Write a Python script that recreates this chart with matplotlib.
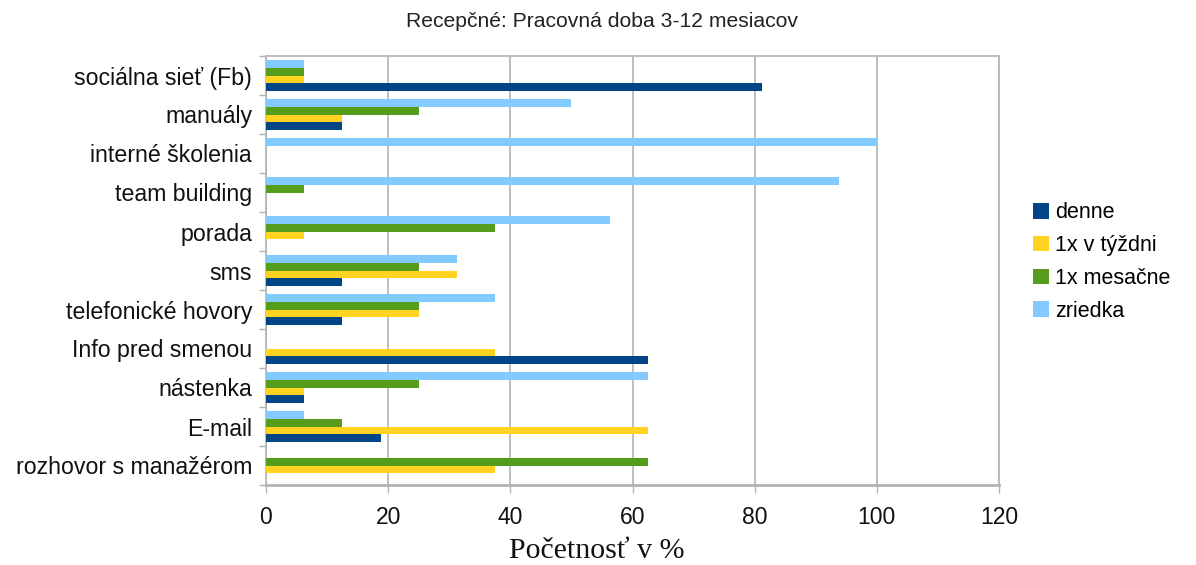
import matplotlib
matplotlib.use("Agg")
import matplotlib.pyplot as plt
import numpy as np
from matplotlib.patches import Patch

# Categories listed from top to bottom
categories = [
    "sociálna sieť (Fb)",
    "manuály",
    "interné školenia",
    "team building",
    "porada",
    "sms",
    "telefonické hovory",
    "Info pred smenou",
    "nástenka",
    "E-mail",
    "rozhovor s manažérom",
]

series_names = ["denne", "1x v týždni", "1x mesačne", "zriedka"]

denne = [81.25, 12.5, 0, 0, 0, 12.5, 12.5, 62.5, 6.25, 18.75, 0]
tyzdne = [6.25, 12.5, 0, 0, 6.25, 31.25, 25, 37.5, 6.25, 62.5, 37.5]
mesacne = [6.25, 25, 0, 6.25, 37.5, 25, 25, 0, 25, 12.5, 62.5]
zriedka = [6.25, 50, 100, 93.75, 56.25, 31.25, 37.5, 0, 62.5, 6.25, 0]

x_ticks = [0, 20, 40, 60, 80, 100, 120]

colors = ["#004586", "#ffd320", "#579d1c", "#83caff"]

plt.rcParams["font.family"] = ["Liberation Sans", "DejaVu Sans"]

fig = plt.figure(figsize=(11.96, 5.65), dpi=100)
ax = fig.add_axes([266 / 1196, 1 - 485 / 565, (999 - 266) / 1196, (485 - 56) / 565])

n = len(categories)
centers = np.arange(n)[::-1]
bar_h = 0.2
offsets = [-0.3, -0.1, 0.1, 0.3]

for vals, off, col in zip([denne, tyzdne, mesacne, zriedka], offsets, colors):
    ax.barh(centers + off, vals, height=bar_h, color=col, edgecolor="none", zorder=3)

ax.set_xlim(0, 120)
ax.set_ylim(-0.5, n - 0.5)
ax.set_xticks(x_ticks)
ax.set_xticklabels([str(t) for t in x_ticks], fontsize=16.5, color="#111111")
ax.tick_params(axis="x", length=6, width=1, color="#b3b3b3", pad=9)

# Category boundary ticks, labels at group centres
ax.set_yticks(np.arange(-0.5, n, 1.0))
ax.set_yticklabels([])
ax.tick_params(axis="y", which="major", length=5, width=1, color="#b3b3b3")
ax.set_yticks(centers, minor=True)
ax.set_yticklabels(categories, minor=True, fontsize=16.7, color="#111111")
ax.tick_params(axis="y", which="minor", length=0, pad=10)

ax.grid(axis="x", color="#b3b3b3", linewidth=1.2, zorder=0)
for side in ["top", "right", "left"]:
    ax.spines[side].set_color("#b3b3b3")
    ax.spines[side].set_linewidth(1.2)
ax.spines["bottom"].set_color("#b3b3b3")
ax.spines["bottom"].set_linewidth(2.0)

fig.text(0.503, 0.962, "Recepčné: Pracovná doba 3-12 mesiacov", ha="center", va="center",
         fontsize=15.2, color="#222222")
fig.text(0.499, 0.025, "Početnosť v %", ha="center", va="center", fontsize=21.5,
         family=["Liberation Serif", "DejaVu Serif"], color="#111111")

handles = [Patch(facecolor=c, edgecolor="none") for c in colors]
fig.legend(handles, series_names, loc="center left", bbox_to_anchor=(1022 / 1196, 1 - 262 / 565),
           frameon=False, fontsize=15.5, handlelength=0.75, handleheight=0.75,
           handletextpad=0.3, labelspacing=0.55, borderpad=0)

fig.savefig("out.png", dpi=100, facecolor="white")
